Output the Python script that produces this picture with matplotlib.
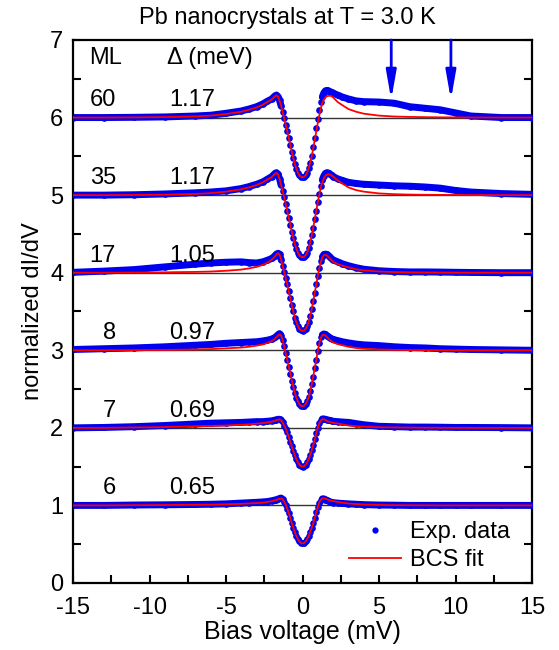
import numpy as np
import matplotlib
matplotlib.use('Agg')
import matplotlib.pyplot as plt
from matplotlib.lines import Line2D
from matplotlib.ticker import MultipleLocator

plt.rcParams['font.family'] = ['Liberation Sans', 'DejaVu Sans']
plt.rcParams['axes.unicode_minus'] = False

# Bias voltage grid (mV): coarse outside, 0.1 mV steps around the gap
bias = [-15, -13, -11, -9, -7, -6, -5, -4, -3.5, -3, -2.6, -2.3,
        -2.0, -1.9, -1.8, -1.7, -1.6, -1.5, -1.4, -1.3, -1.2, -1.1,
        -1.0, -0.9, -0.8, -0.7, -0.6, -0.5, -0.4, -0.3, -0.2, -0.1,
        0.0,
        0.1, 0.2, 0.3, 0.4, 0.5, 0.6, 0.7, 0.8, 0.9, 1.0,
        1.1, 1.2, 1.3, 1.4, 1.5, 1.6, 1.7, 1.8, 1.9, 2.0,
        2.3, 2.6, 3, 3.5, 4, 5, 6, 7, 8, 9, 10, 11, 13, 15]

thickness = ['6', '7', '8', '17', '35', '60']
gap = ['0.65', '0.69', '0.97', '1.05', '1.17', '1.17']

# normalized dI/dV (each curve is shifted by +1 in the plot)
exp_6 = [1.0, 1.0, 1.005, 1.008, 1.012, 1.015, 1.02, 1.03, 1.035, 1.04, 1.045, 1.05,
         1.06, 1.065, 1.07, 1.075, 1.08, 1.09, 1.095, 1.085, 1.05, 1.01,
         0.96, 0.90, 0.84, 0.77, 0.71, 0.655, 0.605, 0.565, 0.535, 0.515,
         0.51,
         0.515, 0.535, 0.565, 0.605, 0.655, 0.71, 0.77, 0.84, 0.91, 0.98,
         1.035, 1.07, 1.085, 1.085, 1.075, 1.065, 1.055, 1.045, 1.04, 1.035,
         1.03, 1.025, 1.02, 1.015, 1.01, 1.005, 1.003, 1.0, 1.0, 1.0, 1.0, 1.0, 1.0, 1.0]
fit_6 = [1.0, 1.0, 1.003, 1.005, 1.008, 1.01, 1.015, 1.02, 1.025, 1.03, 1.035, 1.045,
         1.055, 1.06, 1.065, 1.07, 1.08, 1.085, 1.09, 1.08, 1.05, 1.01,
         0.96, 0.90, 0.84, 0.77, 0.71, 0.655, 0.605, 0.565, 0.535, 0.515,
         0.51,
         0.515, 0.535, 0.565, 0.605, 0.655, 0.71, 0.77, 0.84, 0.91, 0.98,
         1.04, 1.075, 1.09, 1.09, 1.085, 1.08, 1.07, 1.065, 1.06, 1.055,
         1.045, 1.035, 1.025, 1.018, 1.012, 1.006, 1.003, 1.002, 1.001, 1.0, 1.0, 1.0, 1.0, 1.0]

exp_7 = [1.0, 1.005, 1.015, 1.03, 1.05, 1.06, 1.065, 1.07, 1.075, 1.08, 1.08, 1.085,
         1.09, 1.095, 1.10, 1.105, 1.11, 1.11, 1.10, 1.07, 1.03, 0.99,
         0.94, 0.88, 0.82, 0.76, 0.70, 0.645, 0.595, 0.555, 0.525, 0.505,
         0.50,
         0.505, 0.525, 0.555, 0.595, 0.65, 0.71, 0.78, 0.85, 0.93, 1.0,
         1.06, 1.10, 1.115, 1.115, 1.11, 1.105, 1.10, 1.095, 1.09, 1.085,
         1.08, 1.075, 1.07, 1.055, 1.04, 1.02, 1.015, 1.01, 1.01, 1.008, 1.005, 1.005, 1.003, 1.0]
fit_7 = [1.0, 1.0, 1.005, 1.01, 1.02, 1.025, 1.03, 1.04, 1.045, 1.055, 1.06, 1.07,
         1.08, 1.085, 1.09, 1.10, 1.105, 1.11, 1.10, 1.07, 1.03, 0.99,
         0.94, 0.88, 0.82, 0.76, 0.70, 0.645, 0.595, 0.555, 0.525, 0.505,
         0.50,
         0.505, 0.525, 0.555, 0.595, 0.65, 0.71, 0.78, 0.85, 0.93, 1.0,
         1.06, 1.095, 1.11, 1.11, 1.10, 1.09, 1.08, 1.075, 1.07, 1.065,
         1.055, 1.045, 1.03, 1.02, 1.015, 1.008, 1.005, 1.003, 1.002, 1.001, 1.0, 1.0, 1.0, 1.0]

exp_8 = [1.01, 1.02, 1.03, 1.045, 1.065, 1.075, 1.09, 1.10, 1.105, 1.11, 1.12, 1.13,
         1.145, 1.155, 1.165, 1.18, 1.20, 1.215, 1.19, 1.13, 1.05, 0.97,
         0.88, 0.79, 0.70, 0.61, 0.53, 0.45, 0.39, 0.34, 0.305, 0.285,
         0.28,
         0.285, 0.305, 0.34, 0.395, 0.47, 0.56, 0.66, 0.77, 0.88, 0.99,
         1.09, 1.165, 1.20, 1.21, 1.205, 1.19, 1.175, 1.16, 1.15, 1.14,
         1.125, 1.11, 1.095, 1.08, 1.07, 1.06, 1.045, 1.035, 1.03, 1.02, 1.015, 1.01, 1.005, 1.0]
fit_8 = [1.0, 1.0, 1.002, 1.004, 1.01, 1.015, 1.025, 1.035, 1.045, 1.06, 1.075, 1.095,
         1.12, 1.135, 1.15, 1.17, 1.19, 1.205, 1.19, 1.13, 1.05, 0.97,
         0.88, 0.79, 0.70, 0.61, 0.53, 0.45, 0.39, 0.34, 0.305, 0.285,
         0.28,
         0.285, 0.305, 0.34, 0.395, 0.47, 0.56, 0.66, 0.77, 0.88, 0.99,
         1.09, 1.16, 1.195, 1.20, 1.19, 1.17, 1.15, 1.13, 1.115, 1.10,
         1.08, 1.065, 1.045, 1.03, 1.02, 1.01, 1.005, 1.003, 1.002, 1.001, 1.0, 1.0, 1.0, 1.0]

exp_17 = [1.005, 1.02, 1.04, 1.075, 1.11, 1.125, 1.135, 1.14, 1.13, 1.125, 1.14, 1.16,
          1.185, 1.20, 1.22, 1.24, 1.25, 1.235, 1.17, 1.09, 1.01, 0.93,
          0.85, 0.76, 0.67, 0.58, 0.50, 0.42, 0.36, 0.31, 0.275, 0.255,
          0.25,
          0.255, 0.275, 0.31, 0.365, 0.44, 0.53, 0.63, 0.74, 0.85, 0.96,
          1.06, 1.145, 1.205, 1.235, 1.24, 1.235, 1.22, 1.20, 1.18, 1.165,
          1.14, 1.115, 1.09, 1.065, 1.045, 1.025, 1.015, 1.01, 1.01, 1.008, 1.005, 1.003, 1.0, 1.0]
fit_17 = [1.0, 1.0, 1.002, 1.005, 1.01, 1.015, 1.025, 1.04, 1.055, 1.075, 1.10, 1.13,
          1.17, 1.19, 1.21, 1.235, 1.25, 1.235, 1.17, 1.09, 1.01, 0.93,
          0.85, 0.76, 0.67, 0.58, 0.50, 0.42, 0.36, 0.31, 0.275, 0.255,
          0.25,
          0.255, 0.275, 0.31, 0.365, 0.44, 0.53, 0.63, 0.74, 0.85, 0.96,
          1.06, 1.14, 1.20, 1.225, 1.23, 1.22, 1.20, 1.18, 1.16, 1.14,
          1.11, 1.09, 1.07, 1.045, 1.03, 1.015, 1.008, 1.005, 1.003, 1.002, 1.001, 1.0, 1.0, 1.0]

exp_35 = [1.0, 1.0, 1.005, 1.015, 1.03, 1.04, 1.055, 1.085, 1.11, 1.14, 1.17, 1.205,
          1.24, 1.26, 1.28, 1.29, 1.27, 1.21, 1.13, 1.05, 0.97, 0.89,
          0.80, 0.71, 0.62, 0.53, 0.45, 0.37, 0.31, 0.26, 0.225, 0.205,
          0.20,
          0.205, 0.225, 0.26, 0.315, 0.39, 0.48, 0.58, 0.69, 0.80, 0.91,
          1.02, 1.12, 1.20, 1.25, 1.28, 1.29, 1.285, 1.27, 1.255, 1.24,
          1.21, 1.19, 1.165, 1.15, 1.14, 1.13, 1.12, 1.115, 1.105, 1.09, 1.06, 1.04, 1.02, 1.01]
fit_35 = [1.0, 1.0, 1.002, 1.006, 1.015, 1.025, 1.045, 1.075, 1.10, 1.13, 1.165, 1.20,
          1.235, 1.255, 1.275, 1.285, 1.265, 1.21, 1.13, 1.05, 0.97, 0.89,
          0.80, 0.71, 0.62, 0.53, 0.45, 0.37, 0.31, 0.26, 0.225, 0.205,
          0.20,
          0.205, 0.225, 0.26, 0.315, 0.39, 0.48, 0.58, 0.69, 0.80, 0.91,
          1.01, 1.10, 1.17, 1.22, 1.25, 1.265, 1.27, 1.265, 1.255, 1.24,
          1.19, 1.15, 1.10, 1.065, 1.045, 1.022, 1.012, 1.007, 1.004, 1.003, 1.002, 1.001, 1.0, 1.0]

exp_60 = [1.0, 1.0, 1.003, 1.008, 1.02, 1.03, 1.055, 1.085, 1.11, 1.14, 1.175, 1.21,
          1.24, 1.26, 1.28, 1.29, 1.27, 1.22, 1.15, 1.07, 0.99, 0.91,
          0.83, 0.74, 0.65, 0.56, 0.48, 0.40, 0.34, 0.29, 0.255, 0.235,
          0.23,
          0.235, 0.255, 0.29, 0.345, 0.42, 0.51, 0.62, 0.74, 0.86, 0.98,
          1.10, 1.20, 1.27, 1.32, 1.345, 1.35, 1.345, 1.335, 1.325, 1.315,
          1.29, 1.265, 1.24, 1.215, 1.205, 1.20, 1.185, 1.14, 1.12, 1.10, 1.06, 1.02, 1.0, 1.0]
fit_60 = [1.0, 1.0, 1.002, 1.006, 1.015, 1.025, 1.045, 1.075, 1.10, 1.13, 1.165, 1.20,
          1.235, 1.255, 1.275, 1.285, 1.27, 1.22, 1.15, 1.07, 0.99, 0.91,
          0.83, 0.74, 0.65, 0.56, 0.48, 0.40, 0.34, 0.29, 0.255, 0.235,
          0.23,
          0.235, 0.255, 0.29, 0.345, 0.415, 0.50, 0.60, 0.71, 0.82, 0.93,
          1.03, 1.12, 1.19, 1.235, 1.26, 1.275, 1.28, 1.28, 1.275, 1.26,
          1.20, 1.16, 1.11, 1.075, 1.05, 1.025, 1.013, 1.008, 1.005, 1.003, 1.002, 1.001, 1.0, 1.0]

exp_curves = [exp_6, exp_7, exp_8, exp_17, exp_35, exp_60]
fit_curves = [fit_6, fit_7, fit_8, fit_17, fit_35, fit_60]

# bias positions of the two arrows over the 60 ML shoulder
arrow_bias = [5.8, 9.7]

x = np.array(bias)

fig = plt.figure(figsize=(5.59, 6.5), dpi=100)
ax = fig.add_axes([0.1306, 0.1031, 0.8211, 0.8354])

for i in range(len(exp_curves)):
    e = np.array(exp_curves[i]) + i
    f = np.array(fit_curves[i]) + i
    ax.axhline(1 + i, color='#333333', lw=1.0, zorder=1)
    # dense dots merge into a band where the curve is flat
    left = x <= -1.4
    right = x >= 1.3
    ax.plot(x[left], e[left], color='#0000ee', lw=5, solid_capstyle='round', zorder=2)
    ax.plot(x[right], e[right], color='#0000ee', lw=5, solid_capstyle='round', zorder=2)
    ax.plot(x, e, 'o', color='#0000ee', ms=4.8, mec='none', zorder=3)
    ax.plot(x, f, color='#ff0000', lw=1.3, zorder=4)
    ax.text(-12.2, 1.22 + i, thickness[i], ha='right', va='center', fontsize=17)
    ax.text(-7.2, 1.22 + i, gap[i], ha='center', va='center', fontsize=17)

ax.text(-13.95, 6.77, 'ML', ha='left', va='center', fontsize=17)
ax.text(-8.85, 6.77, '\u0394 (meV)', ha='left', va='center', fontsize=17)

for xb in arrow_bias:
    ax.annotate('', xy=(xb, 6.23), xytext=(xb, 7.0),
                arrowprops=dict(arrowstyle='-|>,head_width=0.15,head_length=0.85',
                                color='#0000ee', lw=2, mutation_scale=20,
                                shrinkA=0, shrinkB=0))

ax.set_xlim(-15, 15)
ax.set_ylim(0, 7)
ax.xaxis.set_major_locator(MultipleLocator(5))
ax.xaxis.set_minor_locator(MultipleLocator(2.5))
ax.yaxis.set_major_locator(MultipleLocator(1))
ax.yaxis.set_minor_locator(MultipleLocator(0.5))
ax.tick_params(which='both', direction='in', right=True, top=False,
               length=6, width=1.5, labelsize=17)
ax.tick_params(axis='x', pad=10)
ax.tick_params(axis='y', pad=7)
for s in ax.spines.values():
    s.set_linewidth(1.6)

ax.set_xlabel('Bias voltage (mV)', fontsize=18, labelpad=1)
ax.set_ylabel('normalized dI/dV', fontsize=17, labelpad=4)
fig.text(287 / 559, 0.972, 'Pb nanocrystals at T = 3.0 K', ha='center', va='center', fontsize=17)

handles = [Line2D([], [], marker='o', ls='none', color='#0000ee', ms=4.5, mec='none'),
           Line2D([], [], color='#ff0000', lw=1.3)]
ax.legend(handles, ['Exp. data', 'BCS fit'], loc='lower right', frameon=False,
          fontsize=17, handlelength=2.2, handletextpad=0.4, labelspacing=0.25,
          borderaxespad=0.1, bbox_to_anchor=(0.978, 0.0))

fig.savefig('out.png', dpi=100)
